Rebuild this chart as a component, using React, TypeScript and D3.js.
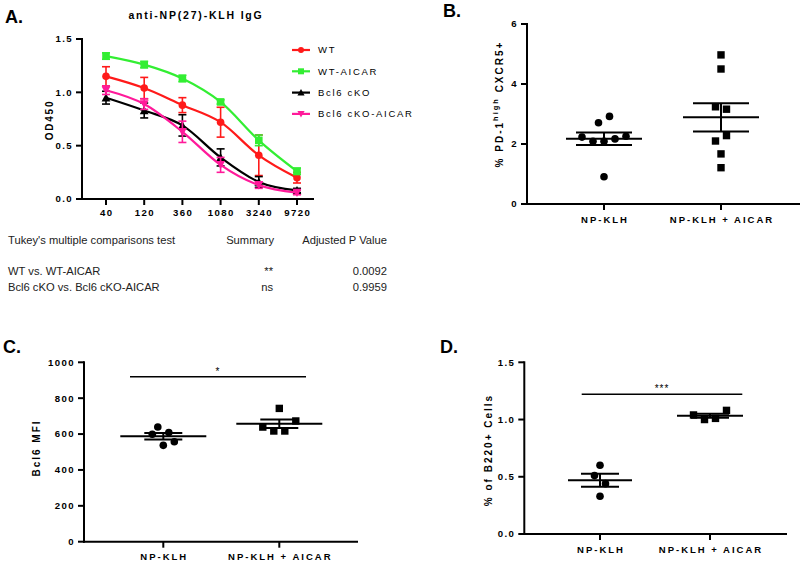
import React from "react";
import * as d3 from "d3";

// ---------- Panel A data ----------
const dilutions = ["40", "120", "360", "1080", "3240", "9720"];
const wtMean = [1.15, 1.04, 0.88, 0.72, 0.41, 0.2];
const wtErr = [0.09, 0.1, 0.07, 0.14, 0.19, 0.05];
const wtAicarMean = [1.34, 1.26, 1.13, 0.91, 0.55, 0.26];
const wtAicarErr = [0.03, 0.03, 0.03, 0.02, 0.05, 0.03];
const cKOMean = [0.95, 0.83, 0.69, 0.39, 0.16, 0.08];
const cKOErr = [0.06, 0.07, 0.1, 0.08, 0.05, 0.02];
const cKOAicarMean = [1.02, 0.89, 0.63, 0.32, 0.13, 0.06];
const cKOAicarErr = [0.04, 0.05, 0.1, 0.07, 0.03, 0.02];
const seriesNames = ["WT", "WT-AICAR", "Bcl6 cKO", "Bcl6 cKO-AICAR"];
const odTicks = [0, 0.5, 1.0, 1.5];

// ---------- Table ----------
const tableHeader = ["Tukey's multiple comparisons test", "Summary", "Adjusted P Value"];
const tableComparisons = ["WT vs. WT-AICAR", "Bcl6 cKO vs. Bcl6 cKO-AICAR"];
const tableSummary = ["**", "ns"];
const tablePValues = ["0.0092", "0.9959"];

// ---------- Scatter panels ----------
const groups = ["NP-KLH", "NP-KLH + AICAR"];
const bNpKlh = [2.71, 2.92, 2.23, 2.09, 2.09, 2.17, 2.26, 0.91];
const bNpKlhAicar = [4.97, 4.5, 3.24, 3.16, 2.28, 2.1, 1.67, 1.21];
const bTicks = [0, 2, 4, 6];
const cNpKlh = [639, 599, 608, 537, 557];
const cNpKlhAicar = [743, 673, 639, 617, 617];
const cTicks = [0, 200, 400, 600, 800, 1000];
const dNpKlh = [0.6, 0.51, 0.44, 0.33];
const dNpKlhAicar = [1.04, 1.0, 1.01, 1.08];
const dTicks = [0, 0.5, 1.0, 1.5];

// layout: horizontal slot offsets of the scatter dots (beeswarm arrangement)
const bSlots = [[-0.5, 0.5, -2, -1, 0, 1, 2, 0], [0, 0, -0.5, 0.5, 0.5, -0.5, 0, 0]];
const cSlots = [[-0.5, -1, 0.5, 0, 1], [0, 1.5, -1.5, -0.5, 0.5]];
const dSlots = [[0, -0.5, 0.5, 0], [-1.5, -0.5, 0.5, 1.5]];

const FONT = "'Liberation Sans', Arial, Helvetica, sans-serif";
const colors = ["#ff1a1a", "#33ee33", "#000000", "#ff1a9a"];
const shapes = ["circle", "square", "triangle", "triangleDown"];

function Marker({ shape, x, y, color, s = 3.8 }: any) {
  if (shape === "circle") return <circle cx={x} cy={y} r={s} fill={color} />;
  if (shape === "square")
    return <rect x={x - s} y={y - s} width={2 * s} height={2 * s} fill={color} />;
  if (shape === "triangle")
    return (
      <path d={`M${x},${y - s - 0.6}L${x + s + 0.6},${y + s}L${x - s - 0.6},${y + s}Z`} fill={color} />
    );
  return <path d={`M${x},${y + s + 0.6}L${x + s + 0.6},${y - s}L${x - s - 0.6},${y - s}Z`} fill={color} />;
}

function PanelA() {
  const x = d3.scalePoint<string>().domain(dilutions).range([106, 297]);
  const y = d3.scaleLinear().domain([0, 1.5]).range([199, 39]);
  const means = [wtMean, wtAicarMean, cKOMean, cKOAicarMean];
  const errs = [wtErr, wtAicarErr, cKOErr, cKOAicarErr];
  const line = d3
    .line<number>()
    .x((_, i) => x(dilutions[i]) as number)
    .y((d) => y(d))
    .curve(d3.curveMonotoneX);
  const tickStyle: any = { fontFamily: FONT, fontWeight: "bold", fontSize: 9.6, letterSpacing: 1.4 };
  return (
    <g>
      <text x={5} y={23} fontFamily={FONT} fontWeight="bold" fontSize={18}>A.</text>
      <text x={196} y={19} textAnchor="middle" fontFamily={FONT} fontWeight="bold" fontSize={10.5} letterSpacing={1.8}>
        anti-NP(27)-KLH IgG
      </text>
      <line x1={82} x2={82} y1={38} y2={200} stroke="#000" strokeWidth={2} />
      <line x1={81} x2={314} y1={199} y2={199} stroke="#000" strokeWidth={2} />
      {odTicks.map((t) => (
        <g key={t}>
          <line x1={76} x2={82} y1={y(t)} y2={y(t)} stroke="#000" strokeWidth={2} />
          <text x={73} y={y(t) + 3.4} textAnchor="end" {...tickStyle}>{t.toFixed(1)}</text>
        </g>
      ))}
      {dilutions.map((d) => (
        <g key={d}>
          <line x1={x(d)} x2={x(d)} y1={199} y2={205} stroke="#000" strokeWidth={2} />
          <text x={(x(d) as number) + 0.7} y={216} textAnchor="middle" {...tickStyle}>{d}</text>
        </g>
      ))}
      <text transform={`translate(53,120) rotate(-90)`} textAnchor="middle" {...tickStyle} fontSize={10} letterSpacing={1.8}>OD450</text>
      {means.map((m, si) => (
        <g key={si}>
          <path d={line(m) as string} fill="none" stroke={colors[si]} strokeWidth={2.2} />
          {m.map((v, i) => {
            const cx = x(dilutions[i]) as number;
            const e = errs[si][i];
            return (
              <g key={i} stroke={colors[si]} strokeWidth={1.6}>
                <line x1={cx} x2={cx} y1={y(v - e)} y2={y(v + e)} />
                <line x1={cx - 4} x2={cx + 4} y1={y(v - e)} y2={y(v - e)} />
                <line x1={cx - 4} x2={cx + 4} y1={y(v + e)} y2={y(v + e)} />
              </g>
            );
          })}
          {m.map((v, i) => (
            <Marker key={"m" + i} shape={shapes[si]} x={x(dilutions[i])} y={y(v)} color={colors[si]} />
          ))}
        </g>
      ))}
      {seriesNames.map((n, i) => {
        const ly = 50 + i * 21.3;
        return (
          <g key={n}>
            <line x1={292} x2={310} y1={ly} y2={ly} stroke={colors[i]} strokeWidth={2.2} />
            <Marker shape={shapes[i]} x={301} y={ly} color={colors[i]} s={3} />
            <text x={318} y={ly + 3.3} fontFamily={FONT} fontSize={9.5} letterSpacing={1.7}>{n}</text>
          </g>
        );
      })}
    </g>
  );
}

function Table() {
  const st: any = { fontFamily: FONT, fontSize: 11.2, fill: "#222" };
  const rowY = [275, 291];
  return (
    <g>
      <text x={8} y={244} {...st}>{tableHeader[0]}</text>
      <text x={274} y={244} textAnchor="end" {...st}>{tableHeader[1]}</text>
      <text x={387} y={244} textAnchor="end" {...st}>{tableHeader[2]}</text>
      {tableComparisons.map((c, i) => (
        <g key={c}>
          <text x={8} y={rowY[i]} {...st}>{c}</text>
          <text x={273} y={rowY[i]} textAnchor="end" {...st}>{tableSummary[i]}</text>
          <text x={387} y={rowY[i]} textAnchor="end" {...st}>{tablePValues[i]}</text>
        </g>
      ))}
    </g>
  );
}

function Scatter({
  letter, letterX, letterY, axisX, axisEnd, y0, y1, domain, ticks, fmt, data, slots, catRange,
  meanHalf, semHalf, ylabel, labelY, bracket, star,
}: any) {
  const x = d3.scalePoint<string>().domain(groups).range(catRange);
  const y = d3.scaleLinear().domain(domain).range([y0, y1]);
  const tickStyle: any = { fontFamily: FONT, fontWeight: "bold", fontSize: 9.6, letterSpacing: 1.4 };
  return (
    <g>
      <text x={letterX} y={letterY} fontFamily={FONT} fontWeight="bold" fontSize={18}>{letter}</text>
      <line x1={axisX} x2={axisX} y1={y1 - 1} y2={y0 + 1} stroke="#000" strokeWidth={2} />
      <line x1={axisX - 1} x2={axisEnd} y1={y0} y2={y0} stroke="#000" strokeWidth={2} />
      {ticks.map((t: number) => (
        <g key={t}>
          <line x1={axisX - 6} x2={axisX} y1={y(t)} y2={y(t)} stroke="#000" strokeWidth={2} />
          <text x={axisX - 9} y={y(t) + 3.4} textAnchor="end" {...tickStyle}>{fmt(t)}</text>
        </g>
      ))}
      {groups.map((g) => (
        <g key={g}>
          <line x1={x(g)} x2={x(g)} y1={y0} y2={y0 + 6} stroke="#000" strokeWidth={2} />
          <text x={(x(g) as number) + 1} y={labelY} textAnchor="middle" {...tickStyle} fontSize={9.5} letterSpacing={2}>{g}</text>
        </g>
      ))}
      {ylabel}
      {data.map((vals: number[], gi: number) => {
        const cx = x(groups[gi]) as number;
        const m = d3.mean(vals) as number;
        const sem = (d3.deviation(vals) as number) / Math.sqrt(vals.length);
        return (
          <g key={gi}>
            {vals.map((v, i) =>
              gi === 0 ? (
                <circle key={i} cx={cx + slots[gi][i] * 11} cy={y(v)} r={3.8} fill="#000" />
              ) : (
                <rect key={i} x={cx + slots[gi][i] * 11 - 3.7} y={y(v) - 3.7} width={7.4} height={7.4} fill="#000" />
              )
            )}
            <g stroke="#000" strokeWidth={2}>
              <line x1={cx - meanHalf[gi]} x2={cx + meanHalf[gi]} y1={y(m)} y2={y(m)} />
              <line x1={cx} x2={cx} y1={y(m - sem)} y2={y(m + sem)} />
              <line x1={cx - semHalf[gi]} x2={cx + semHalf[gi]} y1={y(m - sem)} y2={y(m - sem)} />
              <line x1={cx - semHalf[gi]} x2={cx + semHalf[gi]} y1={y(m + sem)} y2={y(m + sem)} />
            </g>
          </g>
        );
      })}
      {bracket && (
        <g>
          <line x1={bracket[0]} x2={bracket[1]} y1={bracket[2]} y2={bracket[2]} stroke="#000" strokeWidth={1.6} />
          <text x={(bracket[0] + bracket[1]) / 2} y={bracket[2] - 2} textAnchor="middle" fontFamily={FONT} fontSize={10} letterSpacing={1}>{star}</text>
        </g>
      )}
    </g>
  );
}

export default function App() {
  const ylStyle: any = { fontFamily: FONT, fontWeight: "bold", fontSize: 10, letterSpacing: 2 };
  return (
    <svg width={800} height={562} style={{ position: "absolute", left: 0, top: 0, background: "#fff" }}>
      <rect width={800} height={562} fill="#fff" />
      <PanelA />
      <Table />
      <Scatter
        letter="B." letterX={443} letterY={17}
        axisX={527} axisEnd={800} y0={204} y1={24} domain={[0, 6]} ticks={bTicks} fmt={(t: number) => String(t)}
        data={[bNpKlh, bNpKlhAicar]} slots={bSlots} catRange={[604, 721]}
        meanHalf={[38, 38]} semHalf={[28, 28]} labelY={223}
        ylabel={
          <text transform="translate(503,104) rotate(-90)" textAnchor="middle" {...ylStyle}>
            % PD-1<tspan fontSize={7.5} dy={-5}>high</tspan><tspan dy={5}> CXCR5+</tspan>
          </text>
        }
      />
      <Scatter
        letter="C." letterX={3} letterY={353}
        axisX={84} axisEnd={358} y0={541.7} y1={362.3} domain={[0, 1000]} ticks={cTicks} fmt={(t: number) => String(t)}
        data={[cNpKlh, cNpKlhAicar]} slots={cSlots} catRange={[163.3, 279.3]}
        meanHalf={[43, 43]} semHalf={[19, 19]} labelY={560}
        bracket={[130, 306, 376.7]} star="*"
        ylabel={
          <text transform="translate(40,448) rotate(-90)" textAnchor="middle" {...ylStyle}>Bcl6 MFI</text>
        }
      />
      <Scatter
        letter="D." letterX={440} letterY={353}
        axisX={524.3} axisEnd={787} y0={534} y1={362.3} domain={[0, 1.5]} ticks={dTicks} fmt={(t: number) => t.toFixed(1)}
        data={[dNpKlh, dNpKlhAicar]} slots={dSlots} catRange={[600, 710]}
        meanHalf={[32, 33]} semHalf={[19, 19]} labelY={553}
        bracket={[581.7, 742.3, 394.3]} star="***"
        ylabel={
          <text transform="translate(492,450) rotate(-90)" textAnchor="middle" {...ylStyle}>% of B220+ Cells</text>
        }
      />
    </svg>
  );
}
